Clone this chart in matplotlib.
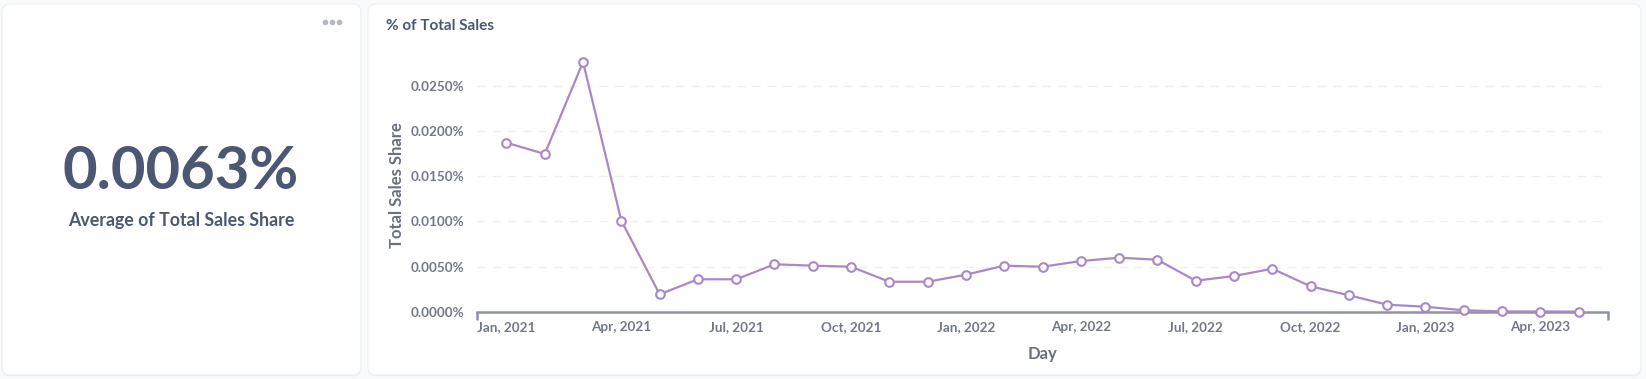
import matplotlib
matplotlib.use("Agg")
import matplotlib.pyplot as plt
from matplotlib.patches import FancyBboxPatch
from matplotlib.ticker import FuncFormatter, FixedLocator
import pandas as pd

# ---- data ----
months = pd.date_range("2021-01-01", periods=29, freq="MS")
share_pct = [0.01872, 0.01747, 0.02766, 0.01008, 0.00193, 0.00359, 0.00359,
             0.00525, 0.00510, 0.00498, 0.00332, 0.00332, 0.00410, 0.00510,
             0.00498, 0.00561, 0.00598, 0.00576, 0.00343, 0.00395, 0.00476,
             0.00281, 0.00182, 0.00078, 0.00055, 0.00016, 0.00003, 0.00002,
             0.00001]
y_ticks = [0.0, 0.005, 0.010, 0.015, 0.020, 0.025]
scalar_value = "0.0063%"
scalar_label = "Average of Total Sales Share"
chart_title = "% of Total Sales"
y_label = "Total Sales Share"
x_label = "Day"

W, H = 1646, 379
DARK = "#4C5773"
TICK = "#737889"
LINE = "#A989C5"
AXIS = "#8E93A5"

plt.rcParams['font.family'] = ['Lato', 'DejaVu Sans']

fig = plt.figure(figsize=(W / 100, H / 100), dpi=100)
fig.patch.set_facecolor("#F9FAFB")

# background layer in pixel coords
bg = fig.add_axes([0, 0, 1, 1], zorder=0)
bg.set_xlim(0, W)
bg.set_ylim(H, 0)
bg.axis("off")

def card(x0, y0, x1, y1):
    sh = FancyBboxPatch((x0, y0 + 1.5), x1 - x0, y1 - y0,
                        boxstyle="round,pad=0,rounding_size=8",
                        fc="#EDEFF2", ec="none", zorder=1)
    bg.add_patch(sh)
    p = FancyBboxPatch((x0, y0), x1 - x0, y1 - y0,
                       boxstyle="round,pad=0,rounding_size=8",
                       fc="white", ec="#EEF0F3", lw=1.0, zorder=2)
    bg.add_patch(p)

card(2, 4, 361, 375)
card(368, 4, 1641, 375)

# dots menu
bg.scatter([325, 332, 339.5], [21.7, 21.7, 21.7], s=9, c="#B4B8C2", zorder=3)

# scalar
bg.text(181, 172, scalar_value, ha="center", va="center", fontsize=43,
        fontweight="bold", color=DARK, zorder=3)
bg.text(181, 220.5, scalar_label, ha="center", va="center", fontsize=12.8,
        fontweight="bold", color=DARK, zorder=3)

# chart title
bg.text(386, 25.5, chart_title, ha="left", va="center", fontsize=11,
        fontweight="bold", color=DARK, zorder=3)

# ---- line chart ----
ax_left, ax_right = 477, 1608
ax_bottom, ax_top = 311.7, 60
px_per_unit = 225.7 / 0.025
ymax = (ax_bottom - ax_top) / px_per_unit
ax = fig.add_axes([ax_left / W, (H - ax_bottom) / H,
                   (ax_right - ax_left) / W, (ax_bottom - ax_top) / H], zorder=5)
ax.patch.set_alpha(0)

xs = list(range(len(months)))
ax.plot(xs, share_pct, color=LINE, lw=1.6, marker="o", ms=6.2,
        mfc="white", mec=LINE, mew=1.5, clip_on=False, zorder=4)

pad = 0.77
ax.set_xlim(-pad, len(months) - 1 + pad)
ax.set_ylim(0, ymax)

for s in ["top", "right", "left"]:
    ax.spines[s].set_visible(False)
ax.spines["bottom"].set_color(AXIS)
ax.spines["bottom"].set_linewidth(1.8)

# y ticks
ax.yaxis.set_major_locator(FixedLocator(y_ticks))
ax.yaxis.set_major_formatter(FuncFormatter(lambda v, p: f"{v:.4f}%"))
ax.tick_params(axis="y", length=0, pad=9.5, labelsize=9.7, labelcolor=TICK)
for lab in ax.get_yticklabels():
    lab.set_fontweight("bold")
ax.yaxis.grid(True, color="#EEEFF2", lw=1, ls=(0, (6, 5)))
ax.set_axisbelow(True)
gl = ax.yaxis.get_gridlines()
if gl:
    gl[0].set_visible(False)

# x ticks
tick_idx = [i for i, m in enumerate(months) if m.month in (1, 4, 7, 10)]
tick_lbl = [months[i].strftime("%b, %Y") for i in tick_idx]
ax.set_xticks(tick_idx)
ax.set_xticklabels(tick_lbl, fontweight="bold")
ax.tick_params(axis="x", length=0, pad=7, labelsize=9.7, labelcolor=TICK)
ax.set_xticks(list(ax.get_xlim()), minor=True)
ax.tick_params(axis="x", which="minor", length=6, width=1.8, color=AXIS,
               direction="out")

ax.set_ylabel(y_label, fontsize=12, fontweight="bold", color="#6A6F80",
              va="center")
ax.yaxis.set_label_coords((397 - ax_left) / (ax_right - ax_left),
                          (ax_bottom - 185) / (ax_bottom - ax_top))
ax.set_xlabel(x_label, fontsize=12, fontweight="bold", color="#6A6F80",
              va="center")
ax.xaxis.set_label_coords(0.5, -(354 - ax_bottom) / (ax_bottom - ax_top))

fig.savefig("out.png", dpi=100, facecolor=fig.get_facecolor())
